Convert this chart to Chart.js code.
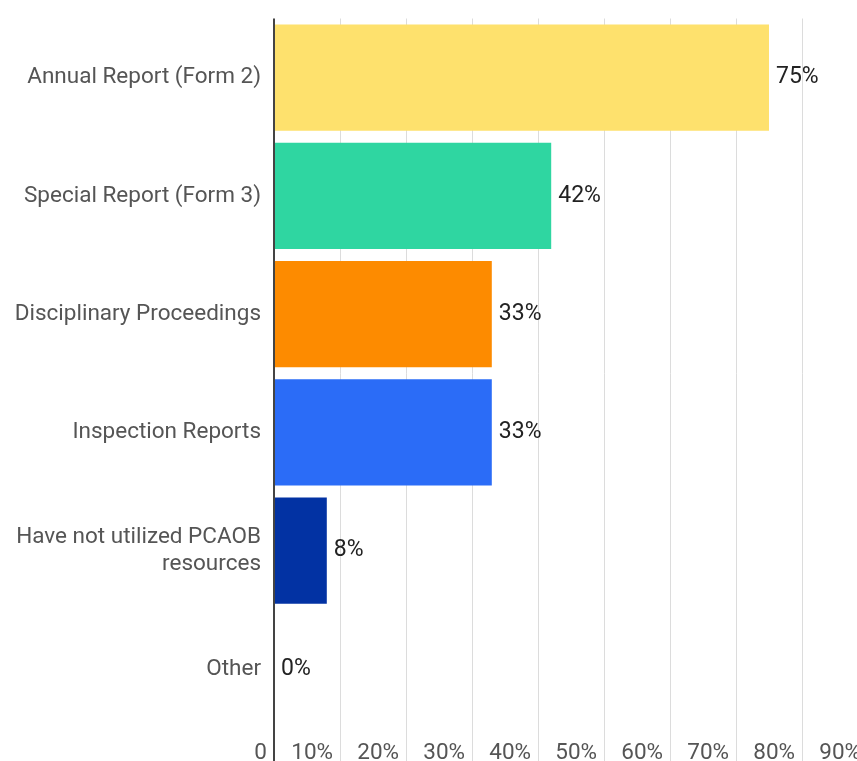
<!DOCTYPE html>
<html>
<head>
<meta charset="utf-8">
<script src="https://cdn.jsdelivr.net/npm/chart.js@4"></script>
<style>
    html, body { margin: 0; padding: 0; background: #fff; overflow: hidden; }
    #wrap { position: absolute; left: 0; top: 0; width: 868px; height: 761px; }
</style>
</head>
<body>
<div id="wrap"><canvas id="myChart"></canvas></div>
<script>
// values
const categories = [
    'Annual Report (Form 2)',
    'Special Report (Form 3)',
    'Disciplinary Proceedings',
    'Inspection Reports',
    ['Have not utilized PCAOB', 'resources'],
    'Other'
];
const percents = [75, 42, 33, 33, 8, 0];
const barColors = ['#fee16d', '#2fd6a1', '#fd8b00', '#2b6cf7', '#0232a3', '#999999'];
const xTicks = [0, 10, 20, 30, 40, 50, 60, 70, 80, 90];

// draw the value next to each bar
const valueLabels = {
    id: 'valueLabels',
    afterDatasetsDraw(chart) {
        const ctx = chart.ctx;
        const meta = chart.getDatasetMeta(0);
        ctx.save();
        ctx.font = '23px Roboto';
        ctx.fillStyle = '#222';
        ctx.textAlign = 'left';
        ctx.textBaseline = 'middle';
        meta.data.forEach(function (bar, i) {
            ctx.fillText(percents[i] + '%', bar.x + 7, bar.y);
        });
        ctx.restore();
    }
};

const ctx = document.getElementById('myChart');
new Chart(ctx.getContext('2d'), {
    type: 'bar',
    data: {
        labels: categories,
        datasets: [{
            data: percents,
            backgroundColor: barColors,
            borderWidth: 0,
            barPercentage: 0.9,
            categoryPercentage: 1.0
        }]
    },
    options: {
        indexAxis: 'y',
        responsive: true,
        maintainAspectRatio: false,
        animation: false,
        layout: { padding: { top: 3, right: 0, left: 0, bottom: 0 } },
        plugins: {
            legend: { display: false },
            tooltip: { enabled: false }
        },
        scales: {
            x: {
                min: 0,
                max: 90,
                afterBuildTicks(scale) {
                    scale.ticks = xTicks.map(v => ({ value: v }));
                },
                afterFit(scale) { scale.height = 33; },
                border: { display: false },
                grid: {
                    color: c => c.index === 0 ? '#444' : '#dcdcdc',
                    lineWidth: c => c.index === 0 ? 2 : 1,
                    tickLength: 35
                },
                ticks: {
                    autoSkip: false,
                    maxRotation: 0,
                    align: 'end',
                    labelOffset: -7,
                    padding: -23,
                    color: '#555',
                    font: { family: 'Roboto', size: 22.5 },
                    callback: v => v === 0 ? '0' : v + '%'
                }
            },
            y: {
                afterFit(scale) { scale.width = 274; },
                border: { display: false },
                grid: { display: false },
                ticks: {
                    padding: 5,
                    color: '#555',
                    font: { family: 'Roboto', size: 22.5, lineHeight: 1.2 }
                }
            }
        }
    },
    plugins: [valueLabels]
});
</script>
</body>
</html>
